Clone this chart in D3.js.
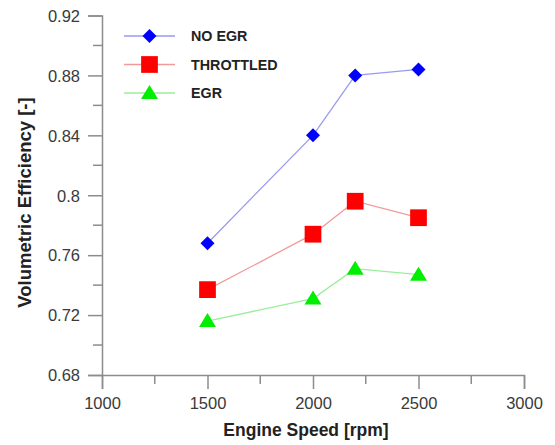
<!DOCTYPE html>
<html>
<head>
<meta charset="utf-8">
<script src="https://cdn.jsdelivr.net/npm/d3@7"></script>
<style>
  body { margin: 0; background: #fff; }
  text { font-family: Arial, "Liberation Sans", sans-serif; }
</style>
</head>
<body>
<div id="chart"></div>
<script>
// engine speed (rpm) and volumetric efficiency readings
var speeds = [1500, 2000, 2200, 2500];
var noEgr = [0.768, 0.840, 0.880, 0.884];
var throttled = [0.737, 0.774, 0.796, 0.785];
var egr = [0.716, 0.731, 0.751, 0.747];
var seriesNames = ['NO EGR', 'THROTTLED', 'EGR'];
var xTicks = [1000, 1500, 2000, 2500, 3000];
var yTicks = [0.68, 0.72, 0.76, 0.8, 0.84, 0.88, 0.92];

var margin = {top: 15.5, right: 31, bottom: 70, left: 102},
    width = 524 - margin.left,
    height = 375 - margin.top;

var series = [
  {name: seriesNames[0], values: noEgr, color: '#0000ff', line: '#9a9af0', shape: 'diamond'},
  {name: seriesNames[1], values: throttled, color: '#ff0000', line: '#f19a9a', shape: 'square'},
  {name: seriesNames[2], values: egr, color: '#00ee00', line: '#9aee9a', shape: 'triangle'}
];

var svg = d3.select('#chart')
    .append('svg')
    .attr('width', 555)
    .attr('height', 445)
    .append('g')
    .attr('transform', 'translate(' + margin.left + ',' + margin.top + ')');

var x = d3.scaleLinear().domain([1000, 3000]).range([0, width]);
var y = d3.scaleLinear().domain([0.68, 0.92]).range([height, 0]);

var axisColor = '#8c8c8c';

// minor ticks
svg.append('g')
    .selectAll('line')
    .data(d3.range(1250, 3000, 500))
    .join('line')
    .attr('x1', d => x(d)).attr('x2', d => x(d))
    .attr('y1', height).attr('y2', height + 9)
    .attr('stroke', axisColor).attr('stroke-width', 1.5);

svg.append('g')
    .selectAll('line')
    .data(d3.range(0.70, 0.92, 0.04))
    .join('line')
    .attr('x1', -9).attr('x2', 0)
    .attr('y1', d => y(d)).attr('y2', d => y(d))
    .attr('stroke', axisColor).attr('stroke-width', 1.5);

var xAxis = svg.append('g')
    .attr('transform', 'translate(0,' + height + ')')
    .call(d3.axisBottom(x).tickValues(xTicks).tickSize(14).tickPadding(8).tickFormat(d3.format('d')));

var yAxis = svg.append('g')
    .call(d3.axisLeft(y).tickValues(yTicks).tickSize(14).tickPadding(8).tickFormat(d => d3.format('.2~f')(d)));

[xAxis, yAxis].forEach(function(a) {
  a.select('.domain').attr('stroke', axisColor).attr('stroke-width', 1.5);
  a.selectAll('.tick line').attr('stroke', axisColor).attr('stroke-width', 1.5);
  a.selectAll('.tick text')
      .attr('fill', '#3a3a3a')
      .style('font-size', '16.5px');
});
yAxis.selectAll('.tick text').attr('dy', '0.35em');
xAxis.selectAll('.tick text').attr('dy', '0.72em');

// axis titles
svg.append('text')
    .attr('x', x(2000) - 7)
    .attr('y', 436 - margin.top)
    .attr('text-anchor', 'middle')
    .style('font-size', '17.5px')
    .style('font-weight', 'bold')
    .attr('fill', '#222')
    .text('Engine Speed [rpm]');

svg.append('text')
    .attr('transform', 'translate(' + (24.5 - margin.left) + ',' + (202.5 - margin.top) + ') rotate(-90)')
    .attr('text-anchor', 'middle')
    .attr('dy', '0.35em')
    .style('font-size', '18.5px')
    .style('font-weight', 'bold')
    .attr('fill', '#222')
    .text('Volumetric Efficiency [-]');

function markerPath(shape) {
  if (shape === 'diamond') return d3.symbol().type(d3.symbolDiamond2).size(125)();
  if (shape === 'square') return d3.symbol().type(d3.symbolSquare).size(280)();
  return 'M0,-8L8.5,6L-8.5,6Z';
}

var line = d3.line()
    .x(d => x(d[0]))
    .y(d => y(d[1]));

series.forEach(function(s) {
  var pts = speeds.map((sp, i) => [sp, s.values[i]]);
  svg.append('path')
      .datum(pts)
      .attr('d', line)
      .attr('fill', 'none')
      .attr('stroke', s.line)
      .attr('stroke-width', 1.3);
  svg.append('g')
      .selectAll('path')
      .data(pts)
      .join('path')
      .attr('d', markerPath(s.shape))
      .attr('transform', d => 'translate(' + x(d[0]) + ',' + y(d[1]) + ')')
      .attr('fill', s.color);
});

// legend
var legend = svg.append('g')
    .attr('transform', 'translate(' + (124 - margin.left) + ',' + (36 - margin.top) + ')');

series.forEach(function(s, i) {
  var g = legend.append('g').attr('transform', 'translate(0,' + (i * 28.5) + ')');
  g.append('line')
      .attr('x1', 0).attr('x2', 51)
      .attr('stroke', s.line).attr('stroke-width', 1.3);
  g.append('path')
      .attr('d', markerPath(s.shape))
      .attr('transform', 'translate(25.5,0)')
      .attr('fill', s.color);
  g.append('text')
      .attr('x', 67)
      .attr('dy', '0.35em')
      .style('font-size', '14.3px')
      .style('font-weight', 'bold')
      .attr('fill', '#222')
      .text(s.name);
});
</script>
</body>
</html>
